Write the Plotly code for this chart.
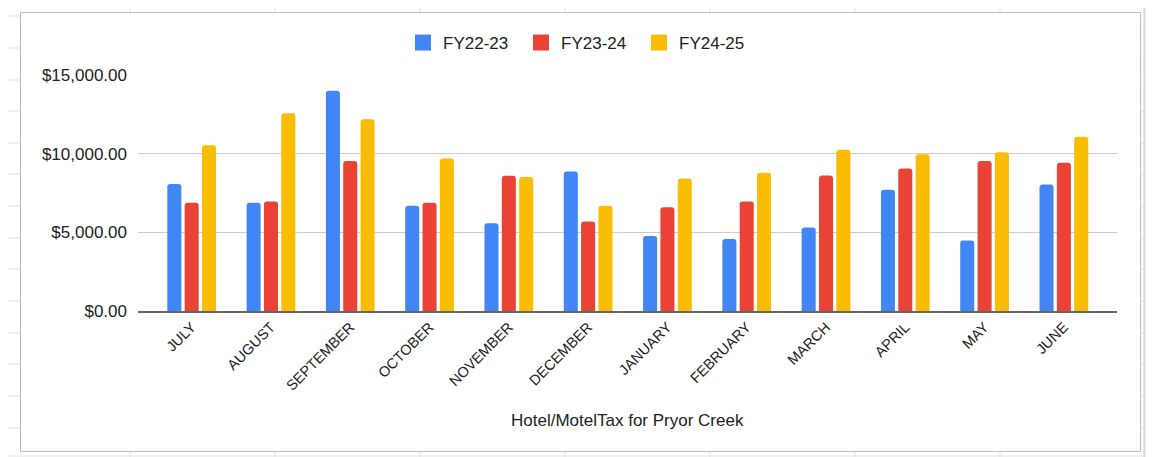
import plotly.graph_objects as go

months = ["JULY", "AUGUST", "SEPTEMBER", "OCTOBER", "NOVEMBER", "DECEMBER",
          "JANUARY", "FEBRUARY", "MARCH", "APRIL", "MAY", "JUNE"]
fy22_23 = [8065, 6875, 14004, 6684, 5583, 8873, 4774, 4583, 5308, 7702, 4481, 8046]
fy23_24 = [6875, 6962, 9529, 6875, 8593, 5690, 6601, 6962, 8618, 9064, 9529, 9423]
fy24_25 = [10528, 12565, 12183, 9700, 8510, 6684, 8428, 8785, 10248, 9955, 10083, 11076]
series_names = ["FY22-23", "FY23-24", "FY24-25"]
colors = ["#4285F4", "#EA4335", "#FBBC04"]
title_text = "Hotel/MotelTax for Pryor Creek"

# page geometry (the html body adds an 8px offset)
W, H = 1155, 457
OFF = 8
L, R, T, B = 138, 38, 75, 146
PW, PH = W - L - R, H - T - B


def px(x):
    return (x - L) / PW


def py(y):
    return (H - B - y) / PH


fig = go.Figure()
for name, vals, c in zip(series_names, [fy22_23, fy23_24, fy24_25], colors):
    fig.add_trace(go.Bar(x=months, y=vals, name=name, legendgroup=name, showlegend=False,
                         marker=dict(color=c, line=dict(width=0))))
# legend entries with larger square swatches
for name, c in zip(series_names, colors):
    fig.add_trace(go.Scatter(x=[None], y=[None], mode="markers", name=name, legendgroup=name,
                             marker=dict(symbol="square", size=16, color=c)))

shapes = []
grid_col = "#e1e1e1"
for yy in [16, 48, 80, 111, 143, 174, 206, 238, 269, 301, 333, 364, 396, 428, 456]:
    shapes.append(dict(type="line", xref="paper", yref="paper", x0=px(0), x1=px(1144),
                       y0=py(yy), y1=py(yy), line=dict(color=grid_col, width=1), layer="below"))
for xx in [130, 275, 420, 565, 710, 855, 1000]:
    shapes.append(dict(type="line", xref="paper", yref="paper", x0=px(xx), x1=px(xx),
                       y0=py(0), y1=py(H), line=dict(color=grid_col, width=1), layer="below"))
shapes.append(dict(type="line", xref="paper", yref="paper", x0=px(1144.5), x1=px(1144.5),
                   y0=py(0), y1=py(H), line=dict(color="#d6d6d6", width=2), layer="below"))
shapes.append(dict(type="rect", xref="paper", yref="paper", x0=px(20.5), x1=px(1140.5),
                   y0=py(12.5), y1=py(451.5), fillcolor="white",
                   line=dict(color="#bdbdbd", width=1), layer="below"))

fig.update_layout(
    width=W - OFF, height=H - OFF,
    margin=dict(l=L - OFF, r=R, t=T - OFF, b=B, pad=0),
    paper_bgcolor="white", plot_bgcolor="rgba(0,0,0,0)",
    font=dict(family="Arial, Liberation Sans, sans-serif", color="#222222", size=17),
    barmode="group", bargap=0.344, bargroupgap=0.19, barcornerradius=3,
    showlegend=True,
    legend=dict(orientation="h", x=px(580), xanchor="center", y=py(43), yanchor="middle",
                entrywidth=73, itemsizing="trace",
                font=dict(size=17, color="#222222"), bgcolor="rgba(0,0,0,0)"),
    shapes=shapes,
    annotations=[dict(text=title_text, xref="paper", yref="paper", x=0.5, y=py(420),
                      xanchor="center", yanchor="middle", showarrow=False,
                      font=dict(size=17, color="#222222"))],
)
fig.update_xaxes(range=[-0.677, 11.67], tickangle=-45, tickfont=dict(size=14.5, color="#222222"),
                 showgrid=False, showline=True, linecolor="#666666", linewidth=2,
                 ticks="", automargin=False, fixedrange=True)
fig.update_yaxes(range=[0, 15000], dtick=5000, tickformat="$,.2f", showgrid=True,
                 gridcolor="#cccccc", gridwidth=1, zeroline=False, ticks="",
                 ticklabelstandoff=10, tickfont=dict(size=17, color="#222222"),
                 automargin=False, fixedrange=True)

fig.write_html("out.html")
